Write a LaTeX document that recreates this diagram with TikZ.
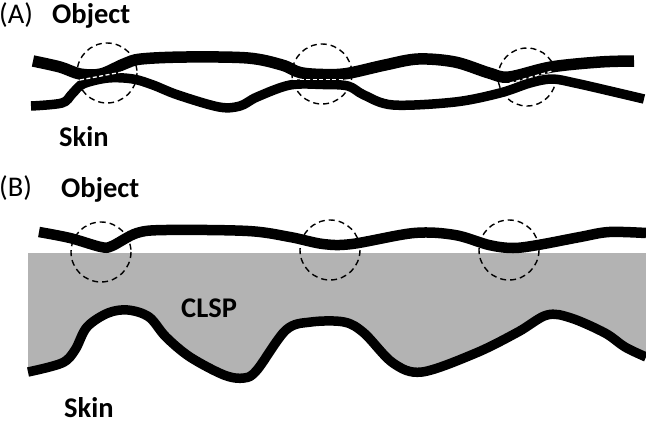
\documentclass[tikz,border=0pt]{standalone}
\usepackage{fontspec}
\setmainfont{Carlito}
\definecolor{clspgray}{RGB}{179,179,179}
\begin{document}
\begin{tikzpicture}[x=1pt,y=-1pt,
  lbl/.style={inner sep=0pt,anchor=base west,font=\fontsize{28.5}{31}\selectfont\bfseries},
  plbl/.style={inner sep=0pt,anchor=base west,font=\fontsize{28.5}{31}\selectfont},
  strand/.style={line width=#1,line cap=butt,line join=round},
  contact/.style={dash pattern=on 6pt off 4pt,line width=1.4pt},
  whitedash/.style={white,dash pattern=on 4pt off 2.5pt,line width=1.3pt}]
\useasboundingbox (0,0) rectangle (646,424);
% ---------- Panel A ----------
\node[plbl] (la) at (-1,23) {(A)};
\node[lbl] (objA) at (52,23) {Object};
\node[lbl] (skinA) at (59,146) {Skin};
\draw[strand=9.5pt] plot[smooth,tension=0.55] coordinates {(31,106) (62,103) (72,94) (83,84) (108,78) (133,79) (153,85) (178,95) (219,107) (240,106) (257,97) (290,85) (323,84.5) (348,86) (364,95) (393,105) (455,102) (500,93) (530,83) (552,79) (575,83) (610,91) (644,99)};
\draw[strand=11.5pt] plot[smooth,tension=0.55] coordinates {(33,61) (60,67) (80,74) (101,74) (124,64) (141,59) (186,57) (248,58) (282,65) (300,72.5) (323,74.5) (347,73.5) (385,65) (418,59) (455,62) (489,73) (509,77) (551,67) (600,62) (634,61)};
\draw[whitedash] (80,80) -- (122,72);
\draw[whitedash] (293,79.3) -- (345,79.3);
\draw[whitedash] (510,83) -- (552,71);
\draw[contact] (107,73) circle[radius=30];
\draw[contact] (322,74) circle[radius=30];
\draw[contact] (527,77) circle[radius=29];
% ---------- Panel B ----------
\node[plbl] (lb) at (-1,196) {(B)};
\node[lbl] (objB) at (61,197) {Object};
\fill[clspgray] (28,253) -- (646,253) -- plot[smooth,tension=0.55] coordinates {(646,357) (625,347) (605,333) (571,318) (547,315) (518,332) (476,353) (422,372) (393,363) (364,333) (344,322) (311,322) (286,330) (257,370) (244,378) (224,375) (190,357) (166,337) (149,317) (128,310) (108,313) (87,327) (75,350) (62,363) (28,372)} -- cycle;
\node[lbl] (clsp) at (181,317) {CLSP};
\node[lbl] (skinB) at (64,417) {Skin};
\draw[strand=9.5pt] plot[smooth,tension=0.55] coordinates {(28,372) (62,363) (75,350) (87,327) (108,313) (128,310) (149,317) (166,337) (190,357) (224,375) (244,378) (257,370) (286,330) (311,322) (344,322) (364,333) (393,363) (422,372) (476,353) (518,332) (547,315) (571,318) (605,333) (625,347) (646,357)};
\draw[strand=10.5pt] plot[smooth,tension=0.55] coordinates {(39,232) (70,238) (101,247) (112,246) (137,233) (166,230) (248,231) (290,237) (323,244) (352,244) (414,233) (455,235) (489,245) (513,248) (538,245) (580,237) (609,232) (646,233)};
\draw[contact] (101,252) circle[radius=30];
\draw[contact] (330,250) circle[radius=30];
\draw[contact] (509,250) circle[radius=30];
\end{tikzpicture}
\end{document}
